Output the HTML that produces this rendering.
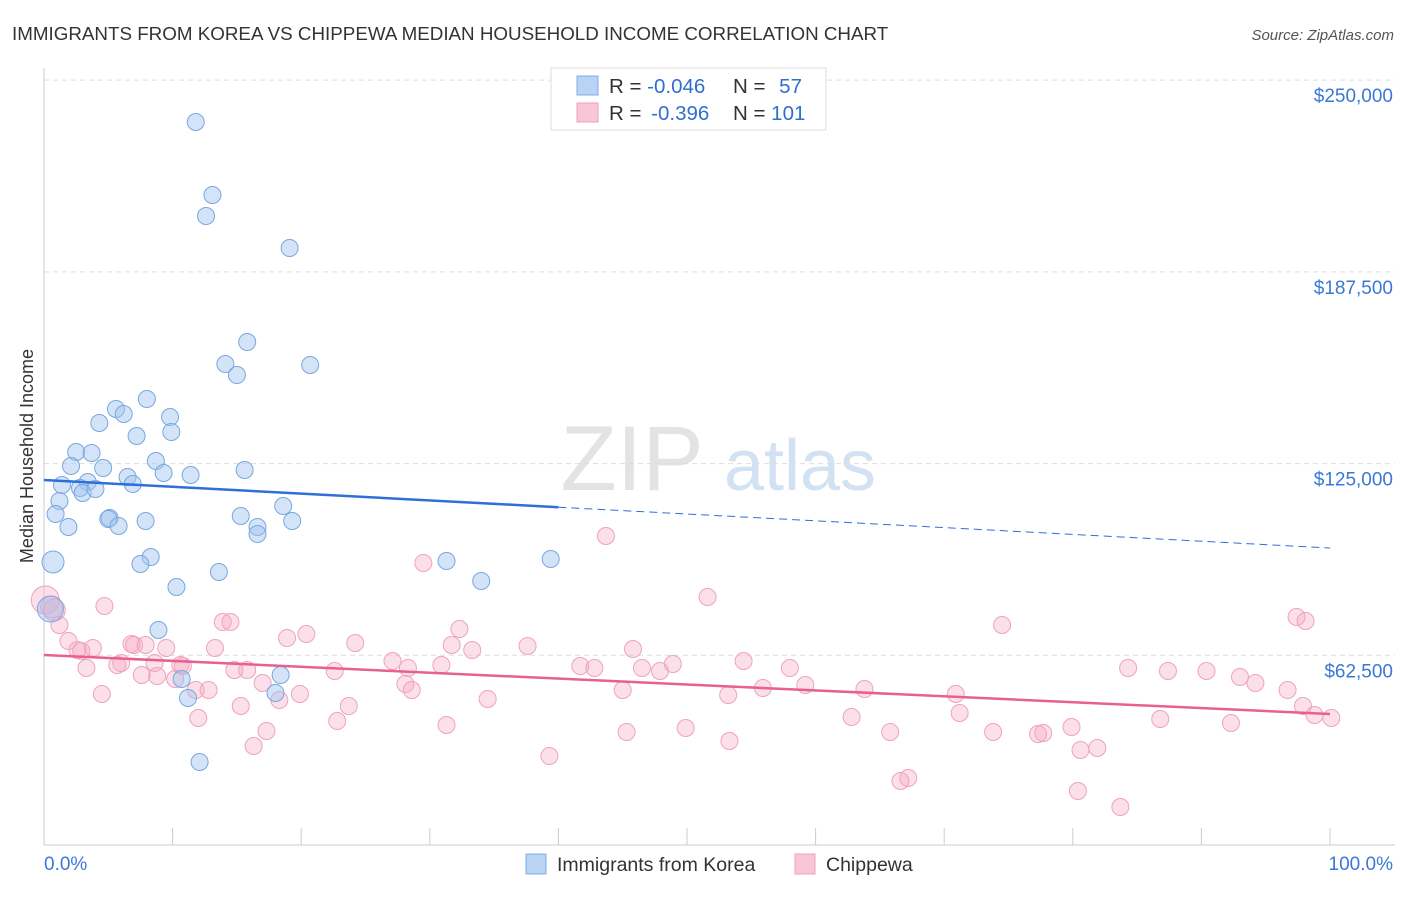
<!DOCTYPE html>
<html><head><meta charset="utf-8"><style>
body{margin:0;background:#fff;font-family:"Liberation Sans",sans-serif;}
svg text{font-family:"Liberation Sans",sans-serif;}
</style></head><body>
<svg id="chart" width="1406" height="892" viewBox="0 0 1406 892" xmlns="http://www.w3.org/2000/svg">
<text x="12" y="40" font-size="18.8" fill="#333">IMMIGRANTS FROM KOREA VS CHIPPEWA MEDIAN HOUSEHOLD INCOME CORRELATION CHART</text>
<text x="1394" y="40" font-size="15" fill="#555" font-style="italic" text-anchor="end">Source: ZipAtlas.com</text>
<text x="33" y="456" font-size="18" fill="#333" text-anchor="middle" transform="rotate(-90 33 456)">Median Household Income</text>
<g>
<text x="632" y="490" font-size="92" fill="#ddd" font-family="Liberation Serif" text-anchor="middle" opacity="0.8">ZIP</text>
<text x="800" y="490" font-size="72" fill="#c9dcf0" text-anchor="middle" opacity="0.8">atlas</text>
</g>
<g id="grid"></g><g id="axes"></g><g id="pts"></g><g id="trend"></g>
<g>
<rect x="551" y="68" width="275" height="62" fill="#fff" stroke="#ddd"/>
<rect x="577" y="76" width="21" height="19" fill="#b9d3f5" stroke="#80aee8"/>
<rect x="577" y="103" width="21" height="19" fill="#f9c6d5" stroke="#eea0b8"/>
<text x="609" y="93" font-size="20.5" fill="#333">R = <tspan fill="#2f6fd0">-0.046</tspan></text>
<text x="733" y="93" font-size="20.5" fill="#333">N = <tspan fill="#2f6fd0" dx="8">57</tspan></text>
<text x="609" y="120" font-size="20.5" fill="#333">R = <tspan fill="#2f6fd0" dx="4">-0.396</tspan></text>
<text x="733" y="120" font-size="20.5" fill="#333">N = <tspan fill="#2f6fd0">101</tspan></text>
</g>
<g>
<rect x="526" y="854" width="20" height="20" fill="#b9d3f5" stroke="#80aee8"/>
<text x="557" y="871" font-size="19.5" fill="#333">Immigrants from Korea</text>
<rect x="795" y="854" width="20" height="20" fill="#f9c6d5" stroke="#eea0b8"/>
<text x="826" y="871" font-size="19.5" fill="#333">Chippewa</text>
</g>
</svg>
<script>
const yTicks=[62500,125000,187500,250000];
const yTickLabels=["$62,500","$125,000","$187,500","$250,000"];
const xTickLabels=["0.0%","100.0%"];
const koreaX=[11.8,13.1,12.6,19.1,15.8,14.1,20.7,15.0,8.0,5.6,6.2,9.8,4.3,7.2,9.9,2.5,3.7,2.1,4.6,8.7,15.6,9.3,11.4,6.5,6.9,1.4,3.4,2.8,3.0,4.0,1.2,18.6,0.9,15.3,5.1,5.0,7.9,19.3,1.9,5.8,16.6,16.6,0.7,8.3,7.5,31.3,39.4,13.6,34.0,10.3,0.5,8.9,10.7,18.4,11.2,18.0,12.1];
const koreaY=[236350,212550,205700,195270,164630,157460,157130,153870,146050,142790,141160,140180,138220,133990,135290,128770,128440,124210,123560,125840,122900,121920,121270,120620,118340,118010,118990,117030,115400,116710,112800,111170,108560,107910,107250,106930,106280,106280,104320,104650,104320,102040,92910,94540,92260,93240,93890,89650,86720,84760,77590,70740,54770,56070,48570,50200,27710];
const chipX=[0.1,0.6,0.8,1.2,4.7,1.9,2.6,2.9,3.8,3.3,4.5,6.0,5.7,6.8,7.0,7.9,7.6,8.8,8.6,9.5,10.6,10.2,10.8,11.8,12.8,12.0,13.3,13.9,14.5,14.8,15.3,15.8,16.3,17.0,17.3,18.3,18.9,19.9,20.4,22.6,22.8,23.7,24.2,27.1,28.1,28.3,28.6,29.5,30.9,31.3,31.7,32.3,33.3,34.5,37.6,39.3,41.7,42.8,43.7,45.0,45.3,45.8,46.5,47.9,48.9,49.9,51.6,53.2,53.3,54.4,55.9,58.0,59.2,62.8,63.8,65.8,66.6,67.2,70.9,71.2,73.8,74.5,77.3,77.7,79.9,80.6,81.9,80.4,83.7,84.3,86.8,87.4,90.4,92.3,93.0,94.2,96.7,97.4,98.1,97.9,98.8,100.1];
const chipY=[80520,78240,77260,72370,78570,67160,64220,63900,64870,58350,49880,59980,59330,66180,65850,65850,56070,55750,59980,64870,59330,54770,59010,51180,51180,42050,64870,73350,73350,57700,45970,57700,32930,53460,37820,47920,68130,49880,69440,57380,41080,45970,66500,60640,53140,58350,51180,92580,59330,39770,65850,71070,64220,48250,65530,29670,59010,58350,101390,51180,37490,64550,58350,57380,59660,38790,81500,49550,34560,60640,51830,58350,52810,42380,51510,37490,21520,22490,49880,43680,37490,72370,36840,37160,39120,31620,32270,18260,13040,58350,41730,57380,57380,40420,55420,53460,51180,74980,73680,45970,43030,42050];
const koreaTrend=[119640,97470];
const chipTrend=[62590,43360];
const NS="http://www.w3.org/2000/svg";
const X=p=>44+p*12.86, Y=v=>847-v/326;
function mk(t,a,parent){const e=document.createElementNS(NS,t);for(const k in a)e.setAttribute(k,a[k]);document.getElementById(parent).appendChild(e);return e;}
yTicks.forEach((v,i)=>{
 const l=mk('line',{x1:44,x2:1395,y1:Y(v),y2:Y(v),stroke:'#ddd','stroke-dasharray':'5 4'},'grid');
 
 
 const t=mk('text',{x:1393,y:Y(v)+22,'font-size':19,fill:'#3a78d6','text-anchor':'end'},'grid');t.textContent=yTickLabels[i];
 
 
});
const ax=mk('line',{x1:44,x2:1395,y1:845,y2:845,stroke:'#ccc'},'axes');


const ay=mk('line',{x1:44,x2:44,y1:68,y2:845,stroke:'#ccc'},'axes');


for(let i=0;i<=10;i++){const t=mk('line',{x1:X(i*10),x2:X(i*10),y1:828,y2:845,stroke:'#ccc'},'axes');
 
 }
const xl0=mk('text',{x:44,y:870,'font-size':19,fill:'#3a78d6'},'axes');xl0.textContent=xTickLabels[0];


const xl1=mk('text',{x:1393,y:870,'font-size':19,fill:'#3a78d6','text-anchor':'end'},'axes');xl1.textContent=xTickLabels[1];


chipX.forEach((p,i)=>{const r=i==0?14:(i<3?11:8.5);
 const c=mk('circle',{cx:X(p),cy:Y(chipY[i]),r:r,fill:'rgba(245,165,192,0.35)',stroke:'#efa3bb','stroke-width':1},'pts');
 
 });
koreaX.forEach((p,i)=>{const r=(i==42)?11:(i==50?13:8.5);
 const c=mk('circle',{cx:X(p),cy:Y(koreaY[i]),r:r,fill:'rgba(160,196,240,0.45)',stroke:'#79a7e0','stroke-width':1},'pts');
 
 });
const kx=40, ky=koreaTrend[0]+(koreaTrend[1]-koreaTrend[0])*kx/100;
const k1=mk('line',{x1:X(0),y1:Y(koreaTrend[0]),x2:X(kx),y2:Y(ky),stroke:'#2f6fd6','stroke-width':2.5},'trend');


const k2=mk('line',{x1:X(kx),y1:Y(ky),x2:X(100),y2:Y(koreaTrend[1]),stroke:'#2f6fd6','stroke-width':1,'stroke-dasharray':'8 5'},'trend');


const c1=mk('line',{x1:X(0),y1:Y(chipTrend[0]),x2:X(100),y2:Y(chipTrend[1]),stroke:'#e8608e','stroke-width':2.5},'trend');


</script>
</body></html>
